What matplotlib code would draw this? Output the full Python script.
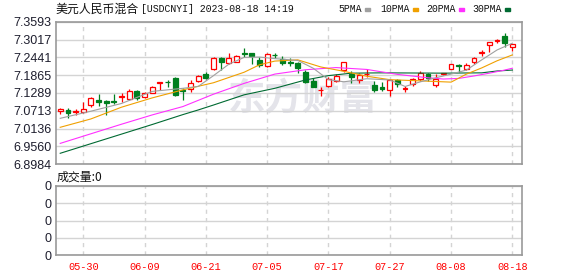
import numpy as np
import pandas as pd
import matplotlib
matplotlib.use('Agg')
import matplotlib.pyplot as plt

# trading days shown (Dragon Boat holiday removed)
dates = pd.bdate_range('2023-05-25', '2023-08-18')
dates = dates[~dates.isin(pd.to_datetime(['2023-06-22', '2023-06-23']))]
day_labels = list(dates.strftime('%m-%d'))

opens = [7.070, 7.074, 7.067, 7.069, 7.090, 7.106, 7.103, 7.102, 7.116, 7.109,
         7.136, 7.117, 7.130, 7.162, 7.166, 7.176, 7.137, 7.141, 7.169, 7.189,
         7.205, 7.243, 7.225, 7.230, 7.258, 7.257, 7.235, 7.216, 7.253, 7.238,
         7.229, 7.227, 7.196, 7.168, 7.138, 7.152, 7.169, 7.203, 7.190, 7.171,
         7.189, 7.155, 7.147, 7.139, 7.171, 7.142, 7.157, 7.173, 7.190, 7.155,
         7.191, 7.206, 7.220, 7.207, 7.228, 7.258, 7.284, 7.296, 7.314, 7.277]
highs = [7.080, 7.079, 7.077, 7.101, 7.117, 7.126, 7.106, 7.126, 7.128, 7.141,
         7.140, 7.133, 7.150, 7.166, 7.172, 7.182, 7.144, 7.170, 7.186, 7.196,
         7.246, 7.244, 7.257, 7.253, 7.274, 7.259, 7.244, 7.257, 7.257, 7.248,
         7.241, 7.230, 7.203, 7.176, 7.149, 7.180, 7.189, 7.230, 7.200, 7.192,
         7.206, 7.168, 7.165, 7.173, 7.173, 7.152, 7.178, 7.201, 7.195, 7.190,
         7.195, 7.223, 7.221, 7.225, 7.245, 7.267, 7.294, 7.302, 7.324, 7.288]
lows = [7.061, 7.047, 7.058, 7.063, 7.085, 7.087, 7.058, 7.094, 7.101, 7.106,
        7.106, 7.114, 7.128, 7.138, 7.149, 7.119, 7.106, 7.133, 7.166, 7.175,
        7.202, 7.203, 7.224, 7.228, 7.244, 7.221, 7.212, 7.214, 7.241, 7.220,
        7.216, 7.195, 7.162, 7.147, 7.120, 7.149, 7.166, 7.197, 7.162, 7.162,
        7.182, 7.133, 7.136, 7.120, 7.149, 7.133, 7.153, 7.167, 7.167, 7.149,
        7.188, 7.205, 7.196, 7.204, 7.224, 7.249, 7.262, 7.289, 7.277, 7.266]
closes = [7.076, 7.063, 7.071, 7.076, 7.112, 7.100, 7.098, 7.100, 7.118, 7.136,
          7.112, 7.128, 7.147, 7.165, 7.164, 7.122, 7.134, 7.160, 7.184, 7.176,
          7.243, 7.230, 7.241, 7.249, 7.256, 7.249, 7.219, 7.254, 7.251, 7.227,
          7.227, 7.211, 7.165, 7.149, 7.140, 7.173, 7.185, 7.228, 7.182, 7.187,
          7.190, 7.139, 7.141, 7.171, 7.158, 7.144, 7.174, 7.194, 7.178, 7.173,
          7.193, 7.222, 7.215, 7.220, 7.242, 7.260, 7.293, 7.301, 7.292, 7.287]

# moving averages at some days (index into dates)
ma5_idx = [0, 4, 8, 12, 16, 18, 20, 22, 24, 26, 28, 31, 33, 35, 37, 40, 43, 45, 47, 49, 51, 53, 55, 57, 59]
ma5_val = [7.047, 7.070, 7.095, 7.134, 7.144, 7.150, 7.185, 7.222, 7.244, 7.245, 7.240, 7.234, 7.209,
           7.172, 7.165, 7.175, 7.171, 7.150, 7.165, 7.178, 7.190, 7.203, 7.236, 7.268, 7.290]
ma10_idx = [0, 4, 8, 12, 16, 20, 24, 26, 28, 31, 34, 37, 40, 43, 46, 49, 51, 53, 55, 57, 59]
ma10_val = [7.018, 7.045, 7.083, 7.113, 7.139, 7.162, 7.196, 7.220, 7.232, 7.236, 7.213, 7.199,
            7.183, 7.172, 7.169, 7.166, 7.164, 7.190, 7.210, 7.233, 7.252]
ma20_idx = [0, 4, 8, 12, 16, 20, 24, 28, 32, 36, 40, 44, 48, 50, 52, 54, 56, 58, 59]
ma20_val = [6.966, 6.997, 7.028, 7.058, 7.085, 7.125, 7.160, 7.190, 7.204, 7.211, 7.205, 7.189,
            7.178, 7.174, 7.176, 7.184, 7.193, 7.203, 7.209]
ma30_idx = [0, 4, 8, 12, 16, 18, 20, 24, 28, 32, 35, 38, 42, 50, 55, 57, 59]
ma30_val = [6.934, 6.965, 6.996, 7.027, 7.059, 7.074, 7.090, 7.123, 7.144, 7.171, 7.185, 7.193,
            7.194, 7.193, 7.194, 7.200, 7.203]

price_ticks = [6.8984, 6.9560, 7.0136, 7.0713, 7.1289, 7.1865, 7.2441, 7.3017, 7.3593]
tick_labels = ['05-30', '06-09', '06-21', '07-05', '07-17', '07-27', '08-08', '08-18']
legend_names = ['5PMA', '10PMA', '20PMA', '30PMA']
legend_colors = ['#a0a0a0', '#f0a000', '#ff30ff', '#006a32']

RED = '#ff0000'
GREEN = '#007f1f'
GRID = '#d4d4d4'
BORDER = '#999999'

W, H = 578, 276
fig = plt.figure(figsize=(W / 100, H / 100), dpi=100)
ax = fig.add_axes([56 / W, 1 - 164.3 / H, 466 / W, 142.6 / H])
axv = fig.add_axes([56 / W, 1 - 255 / H, 466 / W, 69 / H])

x = np.arange(len(dates))
o = np.array(opens); c = np.array(closes)
up = c >= o
tick_pos = [day_labels.index(t) for t in tick_labels]

# watermark
ax.text(0.53, 0.46, '东方财富', transform=ax.transAxes, ha='center', va='center',
        fontsize=27, fontweight='bold', color='#e4e4ea', family='Noto Sans CJK SC', zorder=0)

# candles
ax.vlines(x[up], np.array(lows)[up], np.array(highs)[up], color=RED, lw=0.9, zorder=2)
ax.vlines(x[~up], np.array(lows)[~up], np.array(highs)[~up], color=GREEN, lw=0.9, zorder=2)
body = np.maximum(np.abs(c - o), 0.0006)
ax.bar(x[up], body[up], bottom=np.minimum(o, c)[up], width=0.62,
       facecolor='white', edgecolor=RED, lw=0.9, zorder=3)
ax.bar(x[~up], body[~up], bottom=np.minimum(o, c)[~up], width=0.62,
       facecolor=GREEN, edgecolor=GREEN, lw=0.9, zorder=3)

ax.plot(ma30_idx, ma30_val, color=legend_colors[3], lw=0.8, zorder=4)
ax.plot(ma20_idx, ma20_val, color=legend_colors[2], lw=0.8, zorder=4)
ax.plot(ma10_idx, ma10_val, color=legend_colors[1], lw=0.8, zorder=4)
ax.plot(ma5_idx, ma5_val, color=legend_colors[0], lw=0.8, zorder=4)

for a in (ax, axv):
    a.set_xlim(-0.55, len(x) + 0.25)
    a.set_xticks(tick_pos)
    a.grid(axis='y', color=GRID, lw=1, zorder=0)
    a.grid(axis='x', color=GRID, lw=1, ls=(0, (3, 3)), zorder=0)
    a.tick_params(length=0, pad=3)
    for s in a.spines.values():
        s.set_color(BORDER)
        s.set_linewidth(1.2)

ax.set_ylim(price_ticks[0], price_ticks[-1])
ax.set_yticks(price_ticks)
ax.set_yticklabels([f'{v:.4f}' for v in price_ticks], family='Liberation Sans',
                   fontsize=9, color='#1e1e2e')
ax.set_xticklabels([])

axv.set_ylim(0, 1)
axv.set_yticks(np.linspace(0, 1, 5))
axv.set_yticklabels(['0'] * 5, family='Liberation Sans', fontsize=9, color='#1e1e2e')
axv.set_xticklabels(tick_labels, family='Liberation Mono', fontsize=7.4, color=RED)
axv.tick_params(axis='x', pad=5)

# header texts
fig.text(55 / W, 1 - 9.5 / H, '美元人民币混合', family='Noto Sans CJK SC', fontsize=8.6,
         va='center', ha='left', color='#111')
fig.text(141 / W, 1 - 9.5 / H, '[USDCNYI] 2023-08-18 14:19', family='Liberation Mono',
         fontsize=7.1, va='center', ha='left', color='#111')
name_x = [338, 380, 426, 472]
box_x = [365, 413, 459, 505]
for name, col, nx, bx in zip(legend_names, legend_colors, name_x, box_x):
    fig.text(nx / W, 1 - 9.5 / H, name, family='Liberation Mono', fontsize=7.1,
             va='center', ha='left', color='#111')
    fig.patches.append(plt.Rectangle((bx / W, 1 - 11 / H), 5 / W, 3 / H, color=col,
                                     transform=fig.transFigure, figure=fig))
fig.text(57 / W, 1 - 177 / H, '成交量:0', family='Noto Sans CJK SC', fontsize=8.6,
         va='center', ha='left', color='#111')

fig.savefig('out.png', dpi=100)
